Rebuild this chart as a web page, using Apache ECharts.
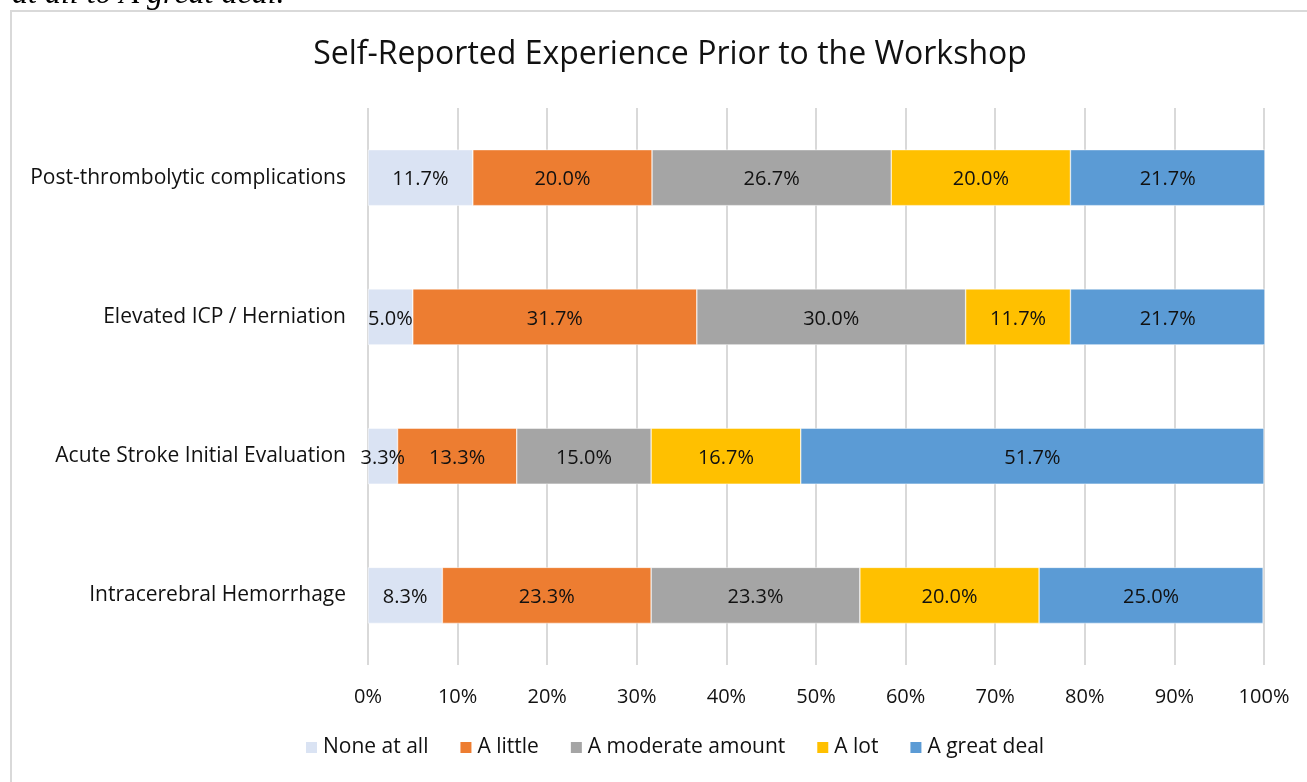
<!DOCTYPE html>
<html>
<head>
<meta charset="utf-8">
<script src="https://cdn.jsdelivr.net/npm/echarts@6/dist/echarts.min.js"></script>
<style>
  html, body { margin: 0; padding: 0; background: #fff; }
  #chart { width: 1307px; height: 782px; }
</style>
</head>
<body>
<div id="chart"></div>
<script>
  // bottom to top, like the value axis of the original
  const categories = ['Intracerebral Hemorrhage', 'Acute Stroke Initial Evaluation', 'Elevated ICP / Herniation', 'Post-thrombolytic complications']
  const noneAtAll = [8.3, 3.3, 5.0, 11.7]
  const aLittle = [23.3, 13.3, 31.7, 20.0]
  const aModerate = [23.3, 15.0, 30.0, 26.7]
  const aLot = [20.0, 16.7, 11.7, 20.0]
  const aGreatDeal = [25.0, 51.7, 21.7, 21.7]
  const seriesNames = ['None at all', 'A little', 'A moderate amount', 'A lot', 'A great deal']
  const colors = ['#dae3f3', '#ed7d31', '#a5a5a5', '#ffc000', '#5b9bd5']

  const font = '"Open Sans", "Noto Sans", sans-serif'
  const textColor = '#111'
  const chart = echarts.init(document.getElementById('chart'))

  const makeSeries = (name, data, i) => ({
    name,
    type: 'bar',
    stack: 'total',
    barWidth: 56,
    data,
    clip: false,
    itemStyle: { color: colors[i], borderColor: '#fff', borderWidth: 0.5 },
    label: {
      show: true,
      position: 'inside',
      color: textColor,
      fontFamily: font,
      fontSize: 20,
      offset: [0, 2],
      formatter: p => p.value.toFixed(1) + '%'
    }
  })

  chart.setOption({
    animation: false,
    color: colors,
    title: {
      text: 'Self-Reported Experience Prior to the Workshop',
      left: 665,
      textAlign: 'center',
      top: 34,
      textStyle: { fontFamily: font, fontSize: 32, fontWeight: 'normal', color: textColor }
    },
    graphic: [
      {
        type: 'rect',
        shape: { x: 11, y: 11, width: 1300, height: 800 },
        style: { fill: 'none', stroke: '#d9d9d9', lineWidth: 2 },
        silent: true
      },
      {
        type: 'text',
        left: 12,
        top: -21,
        style: { text: 'at all to A great deal.', fontFamily: '"Liberation Serif", serif', fontStyle: 'italic', fontSize: 32, fill: '#000' }
      }
    ],
    legend: {
      bottom: 19,
      left: 299,
      itemWidth: 13,
      itemHeight: 13,
      itemGap: 30,
      icon: 'rect',
      textStyle: { fontFamily: font, fontSize: 21, color: textColor },
      data: seriesNames
    },
    grid: { left: 368, right: 43, top: 108, bottom: 117, containLabel: false },
    xAxis: {
      type: 'value',
      min: 0,
      max: 100,
      interval: 10,
      axisLine: { show: false },
      axisTick: { show: false },
      splitLine: { lineStyle: { color: '#d9d9d9', width: 2 } },
      axisLabel: { formatter: '{value}%', margin: 22, fontFamily: font, fontSize: 20, color: textColor }
    },
    yAxis: {
      type: 'category',
      data: categories,
      axisLine: { show: false },
      axisTick: { show: false },
      axisLabel: { margin: 22, fontFamily: font, fontSize: 21, color: textColor, padding: [8, 0, 0, 0] }
    },
    series: [
      makeSeries(seriesNames[0], noneAtAll, 0),
      makeSeries(seriesNames[1], aLittle, 1),
      makeSeries(seriesNames[2], aModerate, 2),
      makeSeries(seriesNames[3], aLot, 3),
      makeSeries(seriesNames[4], aGreatDeal, 4)
    ]
  })
</script>
</body>
</html>
